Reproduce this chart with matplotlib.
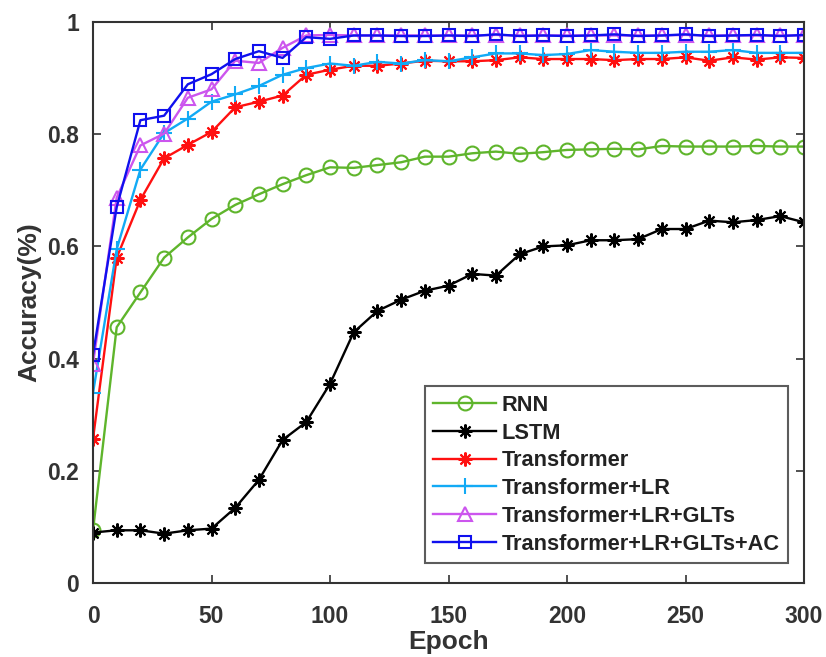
import matplotlib
matplotlib.use("Agg")
import matplotlib.pyplot as plt

plt.rcParams['font.family'] = ['Liberation Sans', 'DejaVu Sans']
plt.rcParams['font.weight'] = 'bold'

epochs = list(range(0, 301, 10))

rnn = [0.094, 0.456, 0.518, 0.580, 0.616, 0.649, 0.674, 0.693, 0.711, 0.727,
       0.741, 0.740, 0.745, 0.750, 0.760, 0.760, 0.766, 0.769, 0.765, 0.768,
       0.772, 0.773, 0.774, 0.773, 0.779, 0.778, 0.778, 0.778, 0.779, 0.778,
       0.778]
lstm = [0.090, 0.094, 0.094, 0.088, 0.094, 0.097, 0.134, 0.184, 0.255, 0.287,
        0.355, 0.447, 0.485, 0.505, 0.521, 0.530, 0.551, 0.548, 0.586, 0.600,
        0.602, 0.611, 0.611, 0.613, 0.631, 0.631, 0.646, 0.643, 0.647, 0.654,
        0.643]
transformer = [0.257, 0.580, 0.683, 0.757, 0.781, 0.804, 0.848, 0.858, 0.869, 0.906,
               0.915, 0.922, 0.922, 0.926, 0.931, 0.930, 0.930, 0.932, 0.937, 0.934,
               0.934, 0.934, 0.932, 0.934, 0.934, 0.937, 0.931, 0.937, 0.933, 0.937,
               0.936]
trans_lr = [0.339, 0.595, 0.737, 0.802, 0.828, 0.858, 0.871, 0.886, 0.906, 0.918,
            0.926, 0.922, 0.929, 0.926, 0.932, 0.930, 0.937, 0.944, 0.944, 0.941,
            0.943, 0.950, 0.947, 0.945, 0.945, 0.947, 0.947, 0.950, 0.945, 0.945,
            0.945]
trans_lr_glts = [0.391, 0.687, 0.780, 0.801, 0.865, 0.880, 0.931, 0.927, 0.954, 0.976,
                 0.977, 0.976, 0.976, 0.976, 0.976, 0.976, 0.976, 0.977, 0.976, 0.976,
                 0.976, 0.976, 0.976, 0.976, 0.976, 0.977, 0.976, 0.976, 0.976, 0.976,
                 0.976]
trans_lr_glts_ac = [0.407, 0.670, 0.825, 0.833, 0.889, 0.907, 0.934, 0.948, 0.936, 0.973,
                    0.970, 0.976, 0.976, 0.975, 0.975, 0.976, 0.975, 0.978, 0.975, 0.976,
                    0.975, 0.976, 0.978, 0.975, 0.976, 0.978, 0.975, 0.976, 0.977, 0.975,
                    0.977]

fig = plt.figure(figsize=(8.26, 6.57), dpi=100)
ax = fig.add_axes([0.1126, 0.1126, 0.8608, 0.8539])

ms = 10
lw = 1.7
ax.plot(epochs, rnn, color='#5fb52c', marker='o', ms=ms, mfc='none', mew=1.5, lw=lw, label='RNN')
ax.plot(epochs, lstm, color='black', marker=(8, 2, 0), ms=ms, mew=1.5, lw=lw, label='LSTM')
ax.plot(epochs, transformer, color='#ff1010', marker=(8, 2, 0), ms=ms, mew=1.5, lw=lw, label='Transformer')
ax.plot(epochs, trans_lr, color='#12aaf5', marker='+', ms=ms + 2, mew=1.5, lw=lw, label='Transformer+LR')
ax.plot(epochs, trans_lr_glts, color='#cc55ee', marker='^', ms=ms, mfc='none', mew=1.5, lw=lw, label='Transformer+LR+GLTs')
ax.plot(epochs, trans_lr_glts_ac, color='#1010ee', marker='s', ms=ms - 1, mfc='none', mew=1.5, lw=lw, label='Transformer+LR+GLTs+AC')

ax.set_xlim(0, 300)
ax.set_ylim(0, 1)
ax.set_xticks([0, 50, 100, 150, 200, 250, 300])
ax.set_yticks([0, 0.2, 0.4, 0.6, 0.8, 1])
ax.set_yticklabels(['0', '0.2', '0.4', '0.6', '0.8', '1'])
ax.tick_params(direction='in', top=True, right=True, length=6, width=1.2,
               labelsize=16.5, colors='#333333')
ax.tick_params(axis='x', pad=16)
ax.tick_params(axis='y', pad=10)
for sp in ax.spines.values():
    sp.set_linewidth(1.5)
    sp.set_color('#333333')

ax.set_xlabel('Epoch', fontsize=19, fontweight='bold', color='#333333', labelpad=1)
ax.set_ylabel('Accuracy(%)', fontsize=19, fontweight='bold', color='#333333', labelpad=4)

leg = ax.legend(loc='lower right', bbox_to_anchor=(0.9775, 0.036), fontsize=15.7,
                fancybox=False, edgecolor='#333333', handlelength=2.9,
                handletextpad=0.25, labelspacing=0.31, borderpad=0.38,
                borderaxespad=0)
leg.get_frame().set_linewidth(1.5)
for t in leg.get_texts():
    t.set_color('#222222')

plt.savefig('out.png', dpi=100)
